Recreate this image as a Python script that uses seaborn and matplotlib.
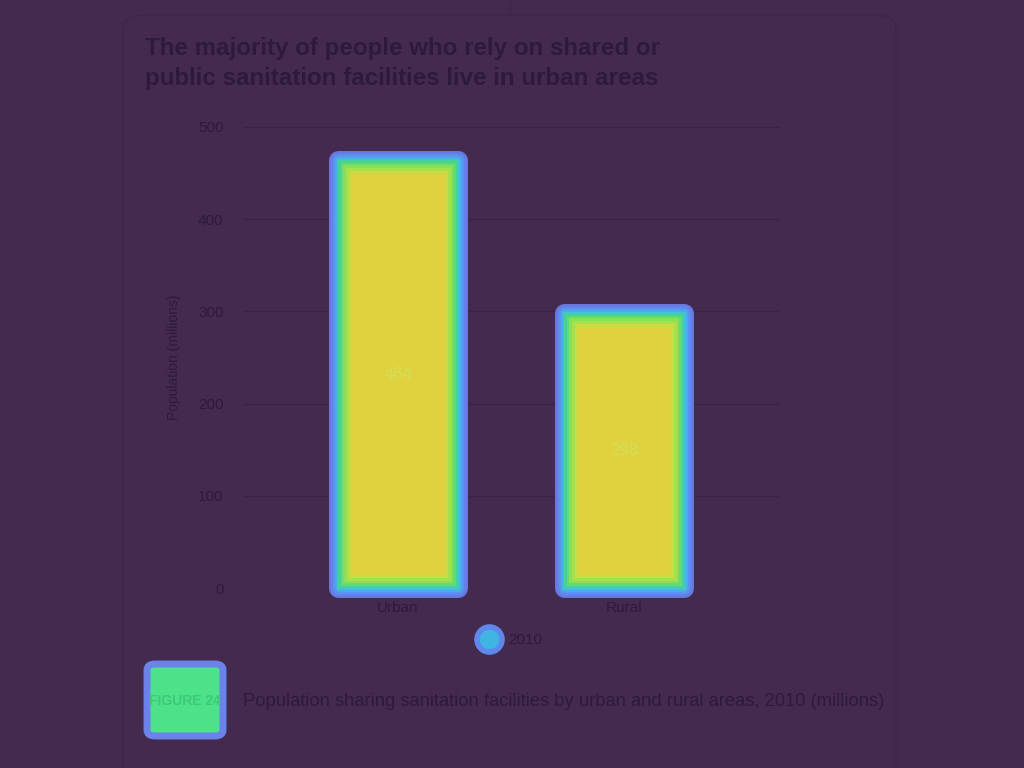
import matplotlib
matplotlib.use("Agg")
import matplotlib.pyplot as plt
import seaborn as sns
import pandas as pd
from matplotlib.lines import Line2D
from matplotlib.patches import FancyBboxPatch

# ---- data ----
categories = ["Urban", "Rural"]
values = [464, 298]
series_name = "2010"
yticks = [0, 100, 200, 300, 400, 500]

title = "The majority of people who rely on shared or\npublic sanitation facilities live in urban areas"
ylabel = "Population (millions)"
fig_label = "FIGURE 24"
caption = "Population sharing sanitation facilities by urban and rural areas, 2010 (millions)"

BG = "#442a4f"
TXT = "#2e1a3d"
GRID = "#3b2347"
NARROW = ["Liberation Sans Narrow", "Liberation Sans", "DejaVu Sans"]
PT = 72 / 100  # points per pixel

sns.set_style("white")
plt.rcParams["font.family"] = ["Liberation Sans", "DejaVu Sans"]

df = pd.DataFrame({"area": categories, "pop": values})

fig = plt.figure(figsize=(10.24, 7.68), dpi=100, facecolor=BG)
ax = fig.add_axes([243/1024, 1-588/768, 537/1024, 461/768])
ax.set_facecolor(BG)

BW = 0.53
# outer glow (unclipped, extends outside the bar)
outer = [(19, "#6876de"), (15, "#6482e8"), (11, "#5a94ee"), (7, "#4cabe8"), (3, "#40c4d0")]
for lw_px, col in outer:
    n0 = len(ax.patches)
    sns.barplot(data=df, x="area", y="pop", color=col, edgecolor=col,
                linewidth=lw_px * PT, width=BW, saturation=1, ax=ax)
    for p in ax.patches[n0:]:
        p.set_clip_on(False)
        p.set_joinstyle("round")

# inner glow (stroke clipped to the bar itself), widest first
inner = [(27, "#cadb44", "#dfd23e"), (21, "#a8e04c", None), (15, "#86e05a", None),
         (10, "#62dc72", None), (5, "#46d294", None)]
for lw_px, ec, fc in inner:
    n0 = len(ax.patches)
    sns.barplot(data=df, x="area", y="pop", color=fc if fc else ec,
                edgecolor=ec, linewidth=lw_px * PT, width=BW, saturation=1, ax=ax)
    for p in ax.patches[n0:]:
        if fc is None:
            p.set_facecolor("none")
        p.set_clip_on(True)
        p.set_clip_box(None)
        p.set_clip_path(p)

label_container = ax.containers[len(outer)]
ax.bar_label(label_container, labels=[str(v) for v in values],
             label_type="center", color="#d4df58", fontsize=12, family=NARROW)

ax.set_xlim(-0.686, 1.69)
ax.set_ylim(0, 500)
ax.set_yticks(yticks)
ax.yaxis.grid(True, color=GRID, linewidth=1)
ax.set_axisbelow(True)
for s in ax.spines.values():
    s.set_visible(False)
ax.tick_params(axis="both", length=0, colors=TXT, labelsize=11, pad=14)
ax.tick_params(axis="x", pad=9)
for lab in ax.get_xticklabels() + ax.get_yticklabels():
    lab.set_family(NARROW)
ax.set_xlabel("")
ax.set_ylabel(ylabel, color=TXT, fontsize=10, labelpad=12, family=NARROW)

# legend
h = Line2D([], [], marker="o", linestyle="none", markersize=18,
           markerfacecolor="#40b4e2", markeredgecolor="#5e88ec", markeredgewidth=4)
fig.legend([h], [series_name], loc="center", bbox_to_anchor=(508/1024, 1-640/768),
           frameon=False, fontsize=11, handletextpad=0.2, labelcolor=TXT)

# frame
fig.patches.append(FancyBboxPatch((123/1024, -0.05), 773/1024, 1.05 - 15/768,
                                  boxstyle="round,pad=0,rounding_size=0.02",
                                  transform=fig.transFigure, facecolor="none",
                                  edgecolor="#3e2549", linewidth=1))
fig.add_artist(Line2D([510/1024, 510/1024], [1, 1-15/768], color="#3e2549",
                      linewidth=1, transform=fig.transFigure))

fig.text(145/1024, 1-37/768, title, ha="left", va="top", fontsize=17.4,
         fontweight="bold", color=TXT, linespacing=1.38)

# figure label box
fig.patches.append(FancyBboxPatch((147/1024, 1-736/768), 76/1024, 72/768,
                                  boxstyle="round,pad=0,rounding_size=0.008",
                                  transform=fig.transFigure, facecolor="#4be28a",
                                  edgecolor="#6a82ea", linewidth=5))
fig.text(185/1024, 1-701/768, fig_label, ha="center", va="center", fontsize=10,
         fontweight="bold", color="#3fc77a", family=NARROW)
fig.text(243/1024, 1-702/768, caption, ha="left", va="center", fontsize=13.2,
         color=TXT, family=NARROW)

fig.savefig("out.png", dpi=100, facecolor=BG)
